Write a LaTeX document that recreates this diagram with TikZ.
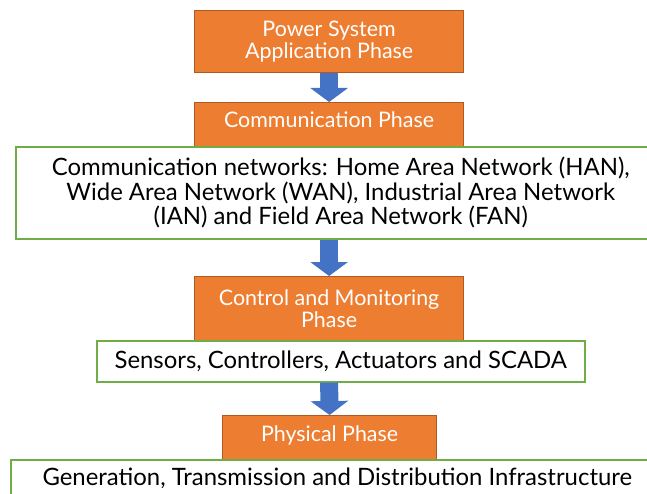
\documentclass[tikz,border=0pt]{standalone}
\usepackage{fontspec}
\setmainfont{Lato}
\usetikzlibrary{arrows.meta}
\definecolor{phaseorange}{HTML}{ED7D31}
\definecolor{phaseedge}{HTML}{AE5A21}
\definecolor{layergreen}{HTML}{70AD47}
\definecolor{arrowblue}{HTML}{4472C4}
\begin{document}
\begin{tikzpicture}[x=1bp, y=-1bp,
  phase/.style = {shape=rectangle, draw=phaseedge, line width=1.2bp,
    fill=phaseorange, text=white, align=center, anchor=north west,
    font=\fontsize{21.5}{22}\selectfont},
  layer/.style = {shape=rectangle, draw=layergreen, line width=1.6bp,
    fill=white, align=center, anchor=north west,
    font=\fontsize{24}{24.5}\selectfont},
  downarrow/.style = {draw=arrowblue, line width=18bp,
    -{Triangle[width=37bp,length=14bp]}}]
  \useasboundingbox (0,0) rectangle (647,494);
  % phases
  \node[phase, minimum width=269bp, minimum height=62bp] (app) at (194,10)
    {Power System\\Application Phase};
  \node[phase, minimum width=269bp, minimum height=44bp, text depth=9bp] (comm) at (194,102)
    {Communication Phase};
  \node[phase, minimum width=269bp, minimum height=64bp] (ctrl) at (194,276)
    {Control and Monitoring\\Phase};
  \node[phase, minimum width=214bp, minimum height=45bp, text depth=9bp] (phys) at (222,415)
    {Physical Phase};
  % layers
  \node[layer, minimum width=650bp, minimum height=92bp] (net) at (15,146)
    {Communication networks: Home Area Network (HAN),\\Wide Area Network (WAN), Industrial Area Network\\(IAN) and Field Area Network (FAN)};
  \node[layer, minimum width=488bp, minimum height=41bp] (dev) at (96,340)
    {Sensors, Controllers, Actuators and SCADA};
  \node[layer, minimum width=653bp, minimum height=38bp] (infra) at (10,459)
    {Generation, Transmission and Distribution Infrastructure};
  % arrows
  \draw[downarrow] (app.south) -- (comm.north);
  \draw[downarrow] (net.south -| comm.south) -- (ctrl.north);
  \draw[downarrow] (dev.south -| ctrl.south) -- (phys.north);
\end{tikzpicture}
\end{document}
